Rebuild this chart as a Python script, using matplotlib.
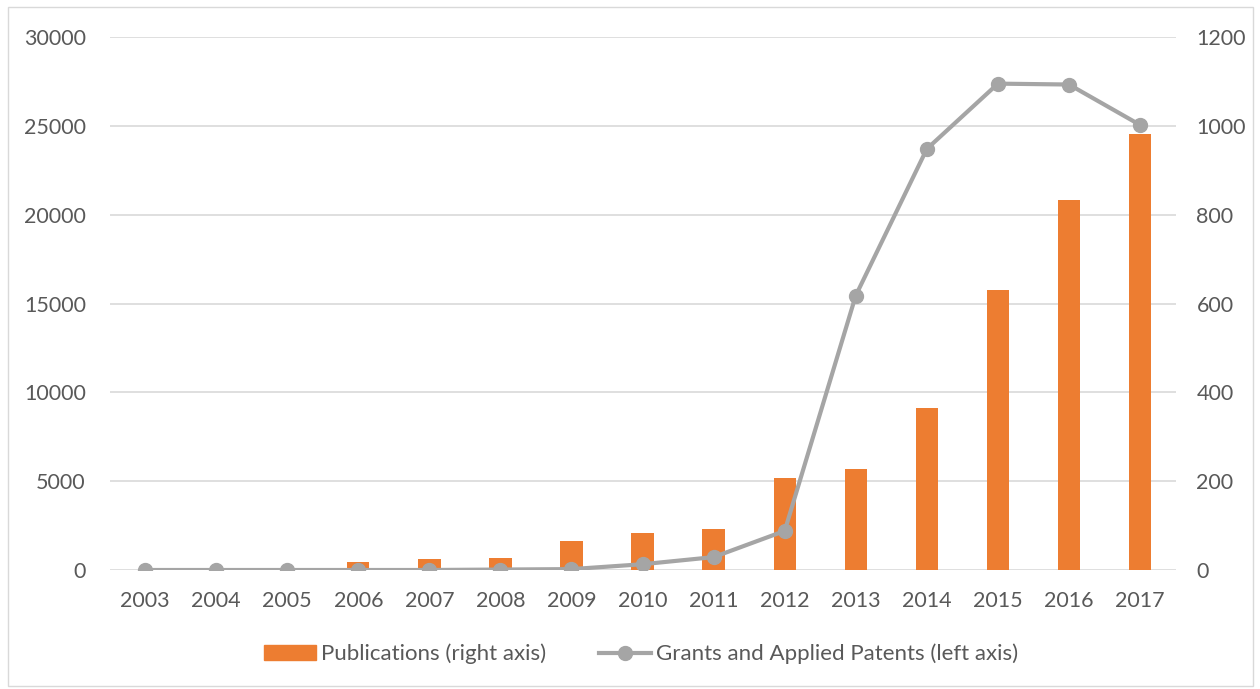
import matplotlib
matplotlib.use("Agg")
import matplotlib.pyplot as plt
from matplotlib.patches import Rectangle
from matplotlib.lines import Line2D

years = ["2003", "2004", "2005", "2006", "2007", "2008", "2009", "2010",
         "2011", "2012", "2013", "2014", "2015", "2016", "2017"]
publications = [0, 0, 0, 470, 620, 690, 1630, 2060, 2290, 5180, 5690, 9140, 15740, 20800, 24520]
patents = [0, 0, 0, 0, 0, 1, 2, 13, 29, 88, 618, 948, 1095, 1093, 1002]

left_ticks = [0, 5000, 10000, 15000, 20000, 25000, 30000]
right_ticks = [0, 200, 400, 600, 800, 1000, 1200]

plt.rcParams['font.family'] = ['Lato', 'DejaVu Sans']
txt = '#595959'

fig = plt.figure(figsize=(12.6, 6.89), dpi=100)
W, H = 1260, 689
fig.patches.append(Rectangle((8 / W, 1 - 686 / H), 1245 / W, 679 / H, transform=fig.transFigure,
                             fill=False, edgecolor='#D9D9D9', linewidth=1))

ax = fig.add_axes([109.5 / W, 1 - 570 / H, (1175.6 - 109.5) / W, (570 - 37) / H])
x = list(range(len(years)))
ax.bar(x, publications, width=0.315, color='#ED7D31', zorder=2)
ax.set_xlim(-0.5, len(years) - 0.5)
ax.set_ylim(0, 30000)
ax.set_yticks(left_ticks)
ax.set_yticklabels([str(t) for t in left_ticks])
ax.set_xticks(x)
ax.set_xticklabels(years)
ax.grid(axis='y', color='#D9D9D9', linewidth=1.2, zorder=0)
ax.set_axisbelow(True)
for s in ax.spines.values():
    s.set_visible(False)
ax.tick_params(axis='y', length=0, pad=17, labelsize=15.5, labelcolor=txt)
ax.tick_params(axis='x', length=0, pad=15, labelsize=15.5, labelcolor=txt)

ax2 = ax.twinx()
ax2.plot(x, patents, color='#A5A5A5', linewidth=3, marker='o', markersize=10, zorder=3)
ax2.set_ylim(0, 1200)
ax2.set_yticks(right_ticks)
ax2.set_yticklabels([str(t) for t in right_ticks])
for s in ax2.spines.values():
    s.set_visible(False)
ax2.tick_params(axis='y', length=0, pad=15, labelsize=15.5, labelcolor=txt)

handles = [Rectangle((0, 0), 1, 1, color='#ED7D31'),
           Line2D([0], [0], color='#A5A5A5', linewidth=3, marker='o', markersize=10)]
fig.legend(handles, ['Publications (right axis)', 'Grants and Applied Patents (left axis)'],
           loc='center', bbox_to_anchor=(641 / W, 1 - 654 / H), ncol=2, frameon=False,
           fontsize=16, labelcolor=txt, handlelength=2.35, handleheight=0.65,
           handletextpad=0.2, columnspacing=2.4)

fig.savefig('out.png', dpi=100)
